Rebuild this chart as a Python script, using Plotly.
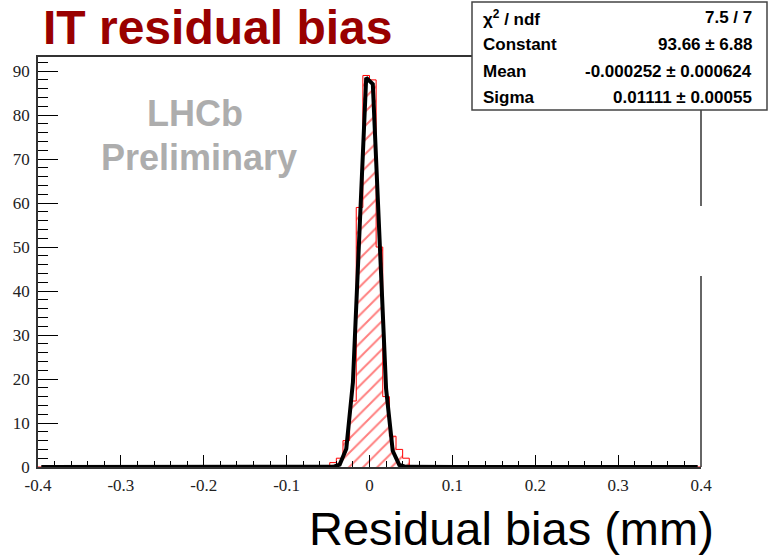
import numpy as np
import plotly.graph_objects as go

# ---------------- data ----------------
bin_width = 0.008
bin_left_edges = [-0.048, -0.040, -0.032, -0.024, -0.016, -0.008, 0.000,
                  0.008, 0.016, 0.024, 0.032, 0.040]
bin_counts = [1, 2, 6, 15, 59, 89, 88, 50, 16, 7, 4, 2]

fit_chi2_ndf = "7.5 / 7"
fit_constant = 93.66
fit_constant_err = 6.88
fit_mean = -0.000252
fit_mean_err = 0.000624
fit_sigma = 0.01111
fit_sigma_err = 0.00055

x_range = [-0.4, 0.4]
y_range = [0, 93.2]
x_tickvals = [-0.4, -0.3, -0.2, -0.1, 0.0, 0.1, 0.2, 0.3, 0.4]
x_ticktext = ["-0.4", "-0.3", "-0.2", "-0.1", "0", "0.1", "0.2", "0.3", "0.4"]
y_tickvals = [0, 10, 20, 30, 40, 50, 60, 70, 80, 90]
y_ticktext = ["0", "10", "20", "30", "40", "50", "60", "70", "80", "90"]

# ---------------- layout geometry (pixels) ----------------
W, H = 769, 556
L, R, T, B = 38, 701, 57, 467
PW, PH = R - L, B - T


def px_x(px):
    return (px - L) / PW


def px_y(py):
    return (B - py) / PH


# histogram step outline (full range, zero outside)
hx = [x_range[0]] + list(bin_left_edges) + [bin_left_edges[-1] + bin_width, x_range[1]]
hy = [0] + list(bin_counts) + [0, 0]

# fitted gaussian, drawn at npx bin centres as ROOT does
npx = 100
fx = x_range[0] + (np.arange(npx) + 0.5) * (x_range[1] - x_range[0]) / npx
fy = fit_constant * np.exp(-0.5 * ((fx - fit_mean) / fit_sigma) ** 2)

fig = go.Figure()
fig.add_trace(go.Scatter(
    x=hx, y=hy, mode="lines", line=dict(color="red", width=1, shape="hv"),
    fill="tozeroy", fillcolor="rgba(0,0,0,0)",
    fillpattern=dict(shape="/", fgcolor="#ff0000", bgcolor="white", size=10, solidity=0.2),
    hoverinfo="skip", showlegend=False))
fig.add_trace(go.Scatter(
    x=fx, y=fy, mode="lines", line=dict(color="black", width=4),
    hoverinfo="skip", showlegend=False))

tick_font = dict(family="Liberation Serif, Times New Roman, serif", size=17, color="#222")

fig.update_layout(
    width=W, height=H,
    margin=dict(l=L, r=W - R, t=T, b=H - B, pad=0),
    paper_bgcolor="white", plot_bgcolor="white",
    xaxis=dict(range=x_range, showgrid=False, zeroline=False,
               showline=True, linecolor="#333", linewidth=1.5, mirror=True,
               ticks="inside", ticklen=12, tickwidth=1, tickcolor="black",
               tickvals=x_tickvals, ticktext=x_ticktext, tickfont=tick_font,
               ticklabelstandoff=2,
               minor=dict(ticks="inside", ticklen=6, tickwidth=1, tickcolor="black",
                          tick0=-0.4, dtick=0.02)),
    yaxis=dict(range=y_range, showgrid=False, zeroline=False,
               showline=True, linecolor="#333", linewidth=1.5, mirror=False,
               ticks="inside", ticklen=20, tickwidth=1, tickcolor="black",
               tickvals=y_tickvals, ticktext=y_ticktext, tickfont=tick_font,
               ticklabelstandoff=3,
               minor=dict(ticks="inside", ticklen=10, tickwidth=1, tickcolor="black",
                          tick0=0, dtick=2)),
)

shapes = []
# right frame line (with the gap seen in the reference)
for (y0, y1) in [(467, 276), (206, 110)]:
    shapes.append(dict(type="line", xref="paper", yref="paper",
                       x0=px_x(701), x1=px_x(701), y0=px_y(y0), y1=px_y(y1),
                       line=dict(color="#333", width=1.5), layer="above"))
# stats box
shapes.append(dict(type="rect", xref="paper", yref="paper",
                   x0=px_x(472), x1=px_x(767), y0=px_y(110), y1=px_y(2),
                   fillcolor="white", line=dict(color="#444", width=1.5), layer="above"))
fig.update_layout(shapes=shapes)

stat_font = dict(family="Liberation Sans, Arial, sans-serif", size=17, color="black", weight="bold")
rows = [
    ("χ<sup>2</sup> / ndf", fit_chi2_ndf, 18),
    ("Constant", f"{fit_constant:.2f} ± {fit_constant_err:.2f}", 45),
    ("Mean", f"{fit_mean:.6f} ± {fit_mean_err:.6f}", 71),
    ("Sigma", f"{fit_sigma:.5f} ± {fit_sigma_err:.5f}", 97),
]
ann = []
for name, val, yc in rows:
    ann.append(dict(xref="paper", yref="paper", x=px_x(481), y=px_y(yc), text=name,
                    xanchor="left", yanchor="middle", showarrow=False, font=stat_font))
    ann.append(dict(xref="paper", yref="paper", x=px_x(754), y=px_y(yc), text=val,
                    xanchor="right", yanchor="middle", showarrow=False, font=stat_font))

ann.append(dict(xref="paper", yref="paper", x=px_x(217), y=px_y(28), text="IT residual bias",
                xanchor="center", yanchor="middle", showarrow=False,
                font=dict(family="Liberation Sans, Arial, sans-serif", size=48,
                          color="#990000", weight="bold")))
gray_font = dict(family="Liberation Sans, Arial, sans-serif", size=36, color="#ADADAD", weight="bold")
ann.append(dict(xref="paper", yref="paper", x=px_x(195), y=px_y(113), text="LHCb",
                xanchor="center", yanchor="middle", showarrow=False, font=gray_font))
ann.append(dict(xref="paper", yref="paper", x=px_x(199), y=px_y(157), text="Preliminary",
                xanchor="center", yanchor="middle", showarrow=False, font=gray_font))
ann.append(dict(xref="paper", yref="paper", x=px_x(716), y=px_y(528), text="Residual bias (mm)",
                xanchor="right", yanchor="middle", showarrow=False,
                font=dict(family="Liberation Sans, Arial, sans-serif", size=47, color="black")))
fig.update_layout(annotations=ann)

fig.write_html("out.html")
